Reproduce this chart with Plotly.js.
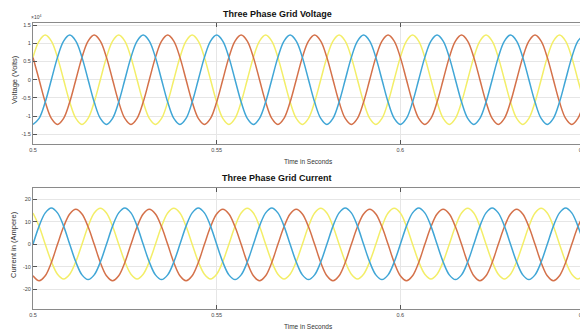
<!DOCTYPE html>
<html>
<head>
<meta charset="utf-8">
<script src="https://cdn.plot.ly/plotly-3.0.1.min.js"></script>
<style>
html,body{margin:0;padding:0;overflow:hidden;background:#fff;width:580px;height:334px;}
#chart{width:600px;height:334px;}
</style>
</head>
<body>
<div id="chart"></div>
<script>
// Sampling grid: 0.5 s to 0.65 s, 12 samples per 50 Hz cycle
const tStart = 0.5;
const tStep = 1 / 600;
const nSamples = 91;
const time = [];
for (let k = 0; k < nSamples; k++) time.push(tStart + k * tStep);

// Voltage (V) (peak ≈ 1.23e4)
const voltYellow = [
6150,10650,12300,10650,6150,0,-6150,-10650,-12300,-10650,-6150,0,
6150,10650,12300,10650,6150,0,-6150,-10650,-12300,-10650,-6150,0,
6150,10650,12300,10650,6150,0,-6150,-10650,-12300,-10650,-6150,0,
6150,10650,12300,10650,6150,0,-6150,-10650,-12300,-10650,-6150,0,
6150,10650,12300,10650,6150,0,-6150,-10650,-12300,-10650,-6150,0,
6150,10650,12300,10650,6150,0,-6150,-10650,-12300,-10650,-6150,0,
6150,10650,12300,10650,6150,0,-6150,-10650,-12300,-10650,-6150,0,
6150,10650,12300,10650,6150,0,-6150];
const voltBlue = [
-12300,-10650,-6150,0,6150,10650,12300,10650,6150,0,-6150,-10650,
-12300,-10650,-6150,0,6150,10650,12300,10650,6150,0,-6150,-10650,
-12300,-10650,-6150,0,6150,10650,12300,10650,6150,0,-6150,-10650,
-12300,-10650,-6150,0,6150,10650,12300,10650,6150,0,-6150,-10650,
-12300,-10650,-6150,0,6150,10650,12300,10650,6150,0,-6150,-10650,
-12300,-10650,-6150,0,6150,10650,12300,10650,6150,0,-6150,-10650,
-12300,-10650,-6150,0,6150,10650,12300,10650,6150,0,-6150,-10650,
-12300,-10650,-6150,0,6150,10650,12300];
const voltRed = [
6150,0,-6150,-10650,-12300,-10650,-6150,0,6150,10650,12300,10650,
6150,0,-6150,-10650,-12300,-10650,-6150,0,6150,10650,12300,10650,
6150,0,-6150,-10650,-12300,-10650,-6150,0,6150,10650,12300,10650,
6150,0,-6150,-10650,-12300,-10650,-6150,0,6150,10650,12300,10650,
6150,0,-6150,-10650,-12300,-10650,-6150,0,6150,10650,12300,10650,
6150,0,-6150,-10650,-12300,-10650,-6150,0,6150,10650,12300,10650,
6150,0,-6150,-10650,-12300,-10650,-6150,0,6150,10650,12300,10650,
6150,0,-6150,-10650,-12300,-10650,-6150];

// Current (A) (peak ≈ 16)
const currYellow = [
13.9,8.0,0,-7.7,-13.3,-15.4,-13.3,-7.7,0,8.0,13.9,16.0,
13.9,8.0,0,-7.7,-13.3,-15.4,-13.3,-7.7,0,8.0,13.9,16.0,
13.9,8.0,0,-7.7,-13.3,-15.4,-13.3,-7.7,0,8.0,13.9,16.0,
13.9,8.0,0,-7.7,-13.3,-15.4,-13.3,-7.7,0,8.0,13.9,16.0,
13.9,8.0,0,-7.7,-13.3,-15.4,-13.3,-7.7,0,8.0,13.9,16.0,
13.9,8.0,0,-7.7,-13.3,-15.4,-13.3,-7.7,0,8.0,13.9,16.0,
13.9,8.0,0,-7.7,-13.3,-15.4,-13.3,-7.7,0,8.0,13.9,16.0,
13.9,8.0,0,-7.7,-13.3,-15.4,-13.3];
const currBlue = [
0,8.1,14.0,16.2,14.0,8.1,0,-7.9,-13.6,-15.7,-13.6,-7.9,
0,8.1,14.0,16.2,14.0,8.1,0,-7.9,-13.6,-15.7,-13.6,-7.9,
0,8.1,14.0,16.2,14.0,8.1,0,-7.9,-13.6,-15.7,-13.6,-7.9,
0,8.1,14.0,16.2,14.0,8.1,0,-7.9,-13.6,-15.7,-13.6,-7.9,
0,8.1,14.0,16.2,14.0,8.1,0,-7.9,-13.6,-15.7,-13.6,-7.9,
0,8.1,14.0,16.2,14.0,8.1,0,-7.9,-13.6,-15.7,-13.6,-7.9,
0,8.1,14.0,16.2,14.0,8.1,0,-7.9,-13.6,-15.7,-13.6,-7.9,
0,8.1,14.0,16.2,14.0,8.1,0];
const currRed = [
-14.0,-16.2,-14.0,-8.1,0,7.8,13.5,15.6,13.5,7.8,0,-8.1,
-14.0,-16.2,-14.0,-8.1,0,7.8,13.5,15.6,13.5,7.8,0,-8.1,
-14.0,-16.2,-14.0,-8.1,0,7.8,13.5,15.6,13.5,7.8,0,-8.1,
-14.0,-16.2,-14.0,-8.1,0,7.8,13.5,15.6,13.5,7.8,0,-8.1,
-14.0,-16.2,-14.0,-8.1,0,7.8,13.5,15.6,13.5,7.8,0,-8.1,
-14.0,-16.2,-14.0,-8.1,0,7.8,13.5,15.6,13.5,7.8,0,-8.1,
-14.0,-16.2,-14.0,-8.1,0,7.8,13.5,15.6,13.5,7.8,0,-8.1,
-14.0,-16.2,-14.0,-8.1,0,7.8,13.5];

// Tick labels
const xTickVals = [0.5, 0.55, 0.6, 0.65];
const xTickText = ["0.5", "0.55", "0.6", "0.65"];
const vTickVals = [-15000, -10000, -5000, 0, 5000, 10000, 15000];
const vTickText = ["-1.5", "-1", "-0.5", "0", "0.5", "1", "1.5"];
const iTickVals = [-20, -10, 0, 10, 20];
const iTickText = ["-20", "-10", "0", "10", "20"];

const cYellow = "#f3ee68";
const cBlue = "#40a6d6";
const cRed = "#d4714a";

const FONT = "Liberation Sans, Arial, Helvetica, sans-serif";
const W = 600, H = 334, ML = 33, MR = 16;
const px = x => (x - ML) / (W - ML - MR);
const py = y => 1 - y / H;

function line(x, y, color, xa, ya) {
  return {x: x, y: y, xaxis: xa, yaxis: ya, type: "scatter", mode: "lines",
    line: {color: color, width: 1.5, shape: "spline", smoothing: 1},
    hoverinfo: "skip", showlegend: false};
}

const traces = [
  line(time, voltYellow, cYellow, "x", "y"),
  line(time, voltRed, cRed, "x", "y"),
  line(time, voltBlue, cBlue, "x", "y"),
  line(time, currYellow, cYellow, "x2", "y2"),
  line(time, currRed, cRed, "x2", "y2"),
  line(time, currBlue, cBlue, "x2", "y2")
];

const xBase = {
  range: [0.5, 0.65], tickvals: xTickVals, ticktext: xTickText,
  ticks: "inside", ticklen: 4, tickcolor: "#555", tickwidth: 1,
  showline: true, linecolor: "#8a8a8a", linewidth: 1, mirror: "ticks",
  showgrid: true, gridcolor: "#e6e6e6", gridwidth: 1, zeroline: false,
  tickfont: {family: FONT, size: 5.5, color: "#444"}, automargin: false, fixedrange: true
};
const yBase = {
  ticks: "inside", ticklen: 4, tickcolor: "#555", tickwidth: 1,
  showline: true, linecolor: "#8a8a8a", linewidth: 1, mirror: "ticks",
  showgrid: true, gridcolor: "#e6e6e6", gridwidth: 1, zeroline: false,
  tickfont: {family: FONT, size: 5.5, color: "#444"}, automargin: false, fixedrange: true
};

const layout = {
  width: W, height: H,
  margin: {l: ML, r: MR, t: 0, b: 0},
  paper_bgcolor: "#fff", plot_bgcolor: "#fff",
  xaxis: Object.assign({}, xBase, {anchor: "y", domain: [0, 1]}),
  yaxis: Object.assign({}, yBase, {anchor: "x", domain: [py(144), py(22.7)],
    range: [-17700, 15700], tickvals: vTickVals, ticktext: vTickText}),
  xaxis2: Object.assign({}, xBase, {anchor: "y2", domain: [0, 1]}),
  yaxis2: Object.assign({}, yBase, {anchor: "x2", domain: [py(309), py(187.7)],
    range: [-28.8, 25.2], tickvals: iTickVals, ticktext: iTickText}),
  annotations: [
    {text: "<b>Three Phase Grid Voltage</b>", xref: "paper", yref: "paper", x: px(277), y: py(13.5),
      showarrow: false, xanchor: "center", yanchor: "middle", font: {family: FONT, size: 9, color: "#111"}},
    {text: "<b>Three Phase Grid Current</b>", xref: "paper", yref: "paper", x: px(277), y: py(178),
      showarrow: false, xanchor: "center", yanchor: "middle", font: {family: FONT, size: 9, color: "#111"}},
    {text: "Time in Seconds", xref: "paper", yref: "paper", x: px(308), y: py(161.5),
      showarrow: false, xanchor: "center", yanchor: "middle", font: {family: FONT, size: 6.5, color: "#333"}},
    {text: "Time in Seconds", xref: "paper", yref: "paper", x: px(308), y: py(326),
      showarrow: false, xanchor: "center", yanchor: "middle", font: {family: FONT, size: 6.5, color: "#333"}},
    {text: "Voltage (Volts)", xref: "paper", yref: "paper", x: px(14), y: py(80), textangle: -90,
      showarrow: false, xanchor: "center", yanchor: "middle", font: {family: FONT, size: 7.5, color: "#333"}},
    {text: "Current in (Ampere)", xref: "paper", yref: "paper", x: px(14), y: py(245), textangle: -90,
      showarrow: false, xanchor: "center", yanchor: "middle", font: {family: FONT, size: 7.5, color: "#333"}},
    {text: "×10<sup>4</sup>", xref: "paper", yref: "paper", x: px(28.5), y: py(16.5),
      showarrow: false, xanchor: "left", yanchor: "middle", font: {family: FONT, size: 5, color: "#444"}}
  ]
};

Plotly.newPlot("chart", traces, layout, {displayModeBar: false, staticPlot: true});
</script>
</body>
</html>
